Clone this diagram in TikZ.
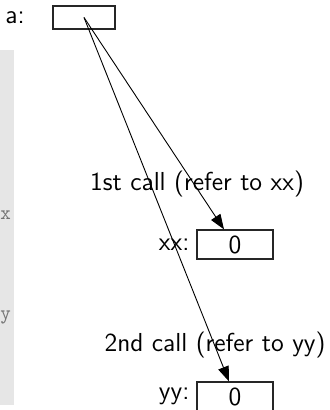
\documentclass[tikz,border=0pt]{standalone}
\usepackage{tikz}
\usetikzlibrary{arrows.meta,positioning,calc}
\definecolor{StripGray}{HTML}{E6E6E6}
\begin{document}
\begin{tikzpicture}[x=0.5pt,y=-0.5pt, node distance=0pt, every node/.style={font=\sffamily\fontsize{13}{16}\selectfont}, cell/.style={draw=black!85,line width=0.6pt,minimum width=38pt,minimum height=14.5pt,inner sep=0pt}, var/.style={font=\ttfamily\normalsize,text=black!55,inner sep=0pt}, ptr/.style={-{Triangle[length=7.5pt,width=5.5pt]},black,line width=0.45pt}]
\useasboundingbox (0,0) rectangle (329,410);
\fill[StripGray] (0,50) rectangle (14,405);
\node[var] (vx) at (5.5,215) {x};
\node[var] (vy) at (5.5,317) {y};
\node[cell,minimum width=31pt,minimum height=11.5pt] (acell) at (84,17.5) {};
\node (alab) at (15,18) {a:};
\node[cell] (xxcell) at (235,244.5) {0};
\node[left=of xxcell] (xxlab) {xx:};
\node[cell] (yycell) at (235,396.5) {0};
\node[left=of yycell] (yylab) {yy:};
\node (call1) at (197,184) {1st call (refer to xx)};
\node (call2) at (215,345) {2nd call (refer to yy)};
\draw[ptr] (acell.center) -- ([xshift=-5.5pt]xxcell.north);
\draw[ptr] (acell.center) -- ([xshift=-3pt]yycell.north);
\end{tikzpicture}
\end{document}
